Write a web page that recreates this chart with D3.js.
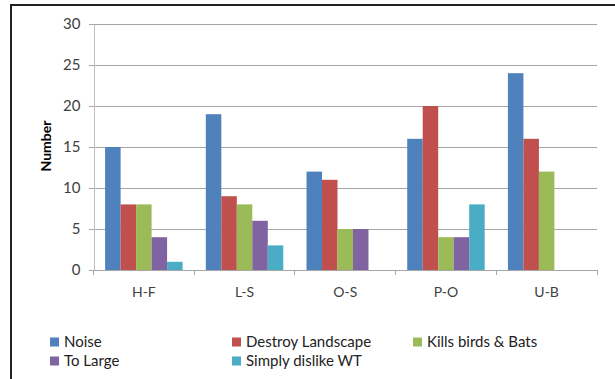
<!DOCTYPE html>
<html><head><meta charset="utf-8">
<script src="https://cdn.jsdelivr.net/npm/d3@7"></script>
<style>
html,body{margin:0;padding:0;background:#fff;}
svg{display:block;font-family:Lato,"Open Sans",sans-serif;}
</style></head>
<body>
<svg id="c" width="615" height="379"></svg>
<script>
const categories = ["H-F","L-S","O-S","P-O","U-B"];
const seriesNames = ["Noise","Destroy Landscape","Kills birds & Bats","To Large","Simply dislike WT"];
const noise = [15,19,12,16,24];
const destroyLandscape = [8,9,11,20,16];
const killsBirds = [8,8,5,4,12];
const toLarge = [4,6,5,4,0];
const simplyDislike = [1,3,0,8,0];
const yTicks = [0,5,10,15,20,25,30];
const colors = ["#4F81BD","#C0504D","#9BBB59","#8064A2","#4BACC6"];

(function(){
const series = [noise,destroyLandscape,killsBirds,toLarge,simplyDislike];
const svg = d3.select("#c");

// outer frame
svg.append("rect").attr("x",11).attr("y",5).attr("width",620).attr("height",400)
  .attr("fill","none").attr("stroke","#222").attr("stroke-width",2);

const pLeft=93.5, pRight=597, pTop=24, pBottom=270;
const x = d3.scaleBand().domain(categories).range([pLeft,pRight]).paddingInner(0).paddingOuter(0);
const x1 = d3.scaleBand().domain(d3.range(series.length)).range([0,x.bandwidth()]).paddingInner(0).paddingOuter(0.75);
const y = d3.scaleLinear().domain([0,30]).range([pBottom,pTop]);

// gridlines
svg.append("g").selectAll("line").data(yTicks).join("line")
  .attr("x1",pLeft-5).attr("x2",pRight).attr("y1",d=>y(d)).attr("y2",d=>y(d))
  .attr("stroke","#a6a6a6").attr("stroke-width",1).attr("shape-rendering","crispEdges");

// y axis
const yAxis = d3.axisLeft(y).tickValues(yTicks).tickSize(0).tickPadding(13);
const gy = svg.append("g").attr("transform",`translate(${pLeft},0)`).call(yAxis);
gy.select(".domain").attr("stroke","#c0c0c0").attr("shape-rendering","crispEdges");
gy.selectAll("text").attr("font-size",15).attr("fill","#404040").attr("font-family","Lato,sans-serif");

// bars
const gBars = svg.append("g");
series.forEach((vals,si)=>{
  gBars.selectAll(null).data(vals).join("rect")
    .attr("x",(d,i)=>x(categories[i])+x1(si))
    .attr("width",x1.bandwidth())
    .attr("y",d=>y(d))
    .attr("height",d=>y(0)-y(d))
    .attr("fill",colors[si]);
});

// x axis
const xAxis = d3.axisBottom(x).tickSize(0).tickPadding(17);
const gx = svg.append("g").attr("transform",`translate(0,${pBottom})`).call(xAxis);
gx.select(".domain").remove();
gx.selectAll("text").attr("font-size",14).attr("fill","#404040").attr("font-family","Lato,sans-serif");
const bounds = categories.map(c=>x(c)).concat([pRight]);
svg.append("g").selectAll("line").data(bounds).join("line")
  .attr("x1",d=>d).attr("x2",d=>d).attr("y1",pBottom).attr("y2",pBottom+5)
  .attr("stroke","#a6a6a6").attr("shape-rendering","crispEdges");
svg.append("line").attr("x1",pLeft).attr("x2",pRight).attr("y1",pBottom).attr("y2",pBottom)
  .attr("stroke","#a6a6a6").attr("shape-rendering","crispEdges");

// y title
svg.append("text").attr("transform","translate(51,146) rotate(-90)")
  .attr("text-anchor","middle").attr("font-weight","bold").attr("font-size",14)
  .attr("fill","#000").text("Number");

// legend
const legPos = [[50,342],[232,342],[413,342],[50,361],[232,361]];
const lg = svg.append("g");
seriesNames.forEach((n,i)=>{
  const [lx,ly]=legPos[i];
  lg.append("rect").attr("x",lx).attr("y",ly-4.5).attr("width",9).attr("height",9).attr("fill",colors[i]);
  lg.append("text").attr("x",lx+14).attr("y",ly).attr("dy","0.35em")
    .attr("font-size",15).attr("fill","#222").text(n);
});
})();
</script>
</body></html>
